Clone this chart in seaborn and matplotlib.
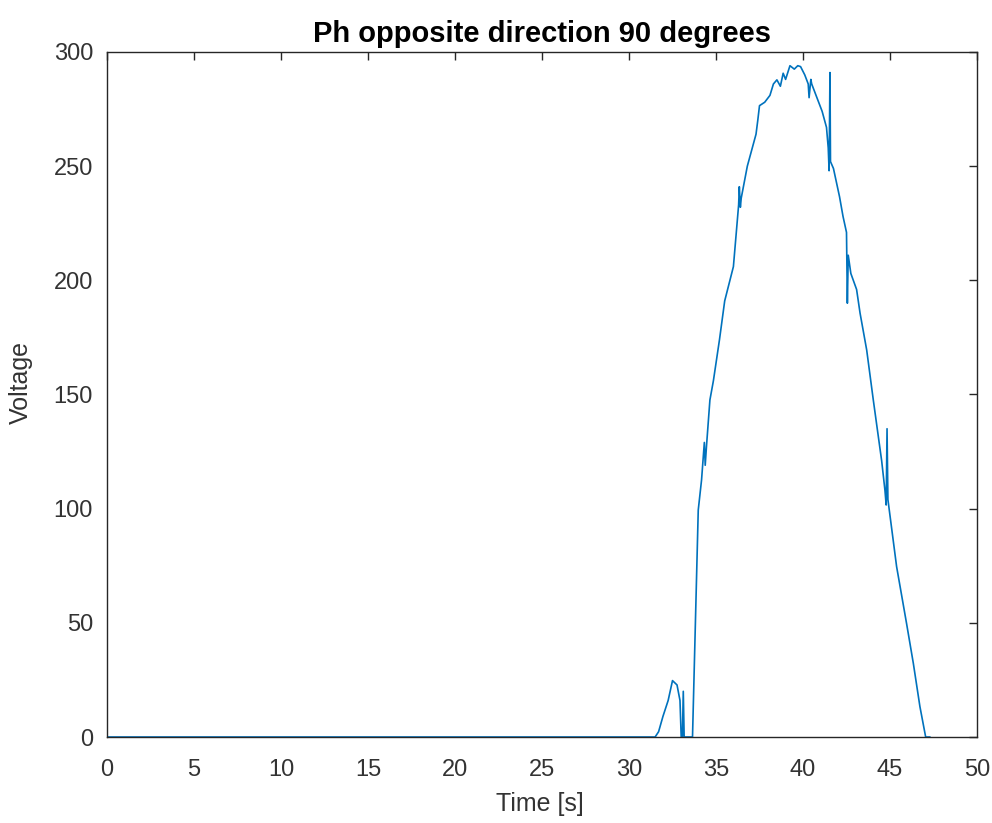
import matplotlib
matplotlib.use("Agg")
import matplotlib.pyplot as plt
import seaborn as sns
import pandas as pd

# 读图估计的数据 (时间 s, 电压)
time_s = [0.0, 31.5, 31.7, 31.95, 32.25, 32.5, 32.76, 32.93, 33.0, 33.07, 33.12,
          33.17, 33.65, 33.98, 34.17, 34.33, 34.38, 34.45, 34.65, 34.85, 35.2,
          35.5, 35.8, 36.0, 36.3, 36.34, 36.4, 36.45, 36.8, 37.05, 37.3, 37.4,
          37.5, 37.8, 38.1, 38.3, 38.5, 38.7, 38.86, 39.0, 39.25, 39.5, 39.7,
          39.86, 40.1, 40.3, 40.35, 40.45, 40.5, 40.8, 41.1, 41.35, 41.45, 41.5,
          41.55, 41.58, 41.75, 42.1, 42.3, 42.5, 42.55, 42.6, 42.75, 43.08,
          43.28, 43.66, 44.04, 44.52, 44.71, 44.78, 44.83, 44.88, 45.38, 45.95,
          46.34, 46.72, 47.05, 47.3]
voltage = [0, 0, 2.3, 9, 16, 24.7, 22.8, 16, 0, 0, 20,
           0, 0, 99.4, 112.6, 129, 119, 127, 147.6, 156, 174,
           191, 200, 206, 233, 241, 232, 236, 250, 257, 264, 270,
           276.5, 278, 281, 286, 287.8, 285, 290.7, 288, 294, 292.5, 294,
           293.6, 290, 286, 280, 288, 286, 280, 274, 267, 258, 248,
           291, 252, 249, 236.6, 228, 221, 190, 211, 203, 196,
           185.6, 169.5, 147.6, 121, 108, 101.6, 135, 104, 74.6, 49.8,
           32.3, 13.3, 0, 0]

df = pd.DataFrame({"Time [s]": time_s, "Voltage": voltage})

sns.set_theme(style="white")
plt.rcParams['font.family'] = ['Liberation Sans', 'DejaVu Sans']

fig = plt.figure(figsize=(9.92, 8.23), dpi=100)
ax = fig.add_axes([107 / 992, (823 - 737) / 823, (977 - 107) / 992, (737 - 52) / 823])

sns.lineplot(data=df, x="Time [s]", y="Voltage", ax=ax, color="#0072BD",
             linewidth=1.2, sort=False, estimator=None)

ax.set_xlim(0, 50)
ax.set_ylim(0, 300)
ax.set_xticks(range(0, 51, 5))
ax.set_yticks(range(0, 301, 50))
ax.tick_params(direction="in", length=6, width=1.0, top=True, right=True,
               labelsize=17, colors="#262626", labelcolor="#333333")
ax.tick_params(axis="x", pad=16)
ax.tick_params(axis="y", pad=10)
ax.set_xlabel("Time [s]", fontsize=18, color="#333333")
ax.set_ylabel("Voltage", fontsize=18, color="#333333")
ax.xaxis.set_label_coords(0.498, -0.08)
ax.yaxis.set_label_coords(-0.085, 0.518)
ax.set_title("Ph opposite direction 90 degrees", fontsize=21, fontweight="bold",
             color="black", pad=7)
for s in ax.spines.values():
    s.set_visible(True)
    s.set_color("#262626")
    s.set_linewidth(1.0)

fig.savefig("out.png", dpi=100)
